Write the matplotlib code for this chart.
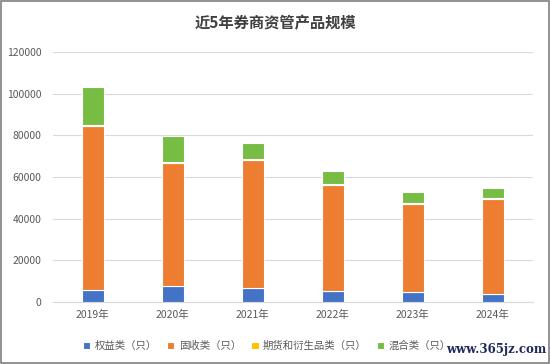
import matplotlib
matplotlib.use("Agg")
import matplotlib.pyplot as plt
import numpy as np
from matplotlib.patches import Rectangle

plt.rcParams['font.family'] = ['Noto Sans CJK SC', 'DejaVu Sans']

years = ['2019年', '2020年', '2021年', '2022年', '2023年', '2024年']
series_names = ['权益类（只）', '固收类（只）', '期货和衍生品类（只）', '混合类（只）']
equity = [5900, 7500, 6700, 5100, 4600, 4000]
fixed_income = [78600, 59200, 61600, 51300, 42500, 45500]
futures = [300, 300, 300, 300, 300, 300]
mixed = [18400, 12900, 7900, 6000, 5300, 4800]
colors = ['#4472C4', '#ED7D31', '#FFC000', '#77BC43']

fig = plt.figure(figsize=(5.5, 3.64), dpi=100)
ax = fig.add_axes([0.0956, 0.1703, 0.8734, 0.6867])

x = np.arange(len(years))
bottom = np.zeros(len(years))
for vals, name, c in zip([equity, fixed_income, futures, mixed], series_names, colors):
    ax.bar(x, vals, width=0.275, bottom=bottom, color=c, edgecolor='white',
           linewidth=0.8, label=name, zorder=3)
    bottom += np.array(vals)

ax.set_xlim(-0.5, 5.5)
ax.set_ylim(0, 120000)
ax.set_yticks(np.arange(0, 120001, 20000))
ax.set_xticks(x)
ax.set_xticklabels(years)
ax.grid(axis='y', color='#D9D9D9', linewidth=0.8, zorder=0)
for s in ['top', 'right', 'left']:
    ax.spines[s].set_visible(False)
ax.spines['bottom'].set_color('#D9D9D9')
ax.tick_params(axis='both', length=0, labelsize=7.5, colors='#595959')
ax.tick_params(axis='x', pad=6)
ax.tick_params(axis='y', pad=8)

fig.text(0.5, 0.937, '近5年券商资管产品规模', ha='center', va='center',
         fontsize=11, fontweight='bold', color='#404040')

leg = fig.legend(loc='center', bbox_to_anchor=(0.485, 0.05), ncol=4, frameon=False,
                 fontsize=7.5, handlelength=0.7, handleheight=0.7, handletextpad=0.4,
                 columnspacing=1.0)
for t in leg.get_texts():
    t.set_color('#595959')

# site watermark, bottom right
fig.text(0.993, 0.04, 'www.365jz.com', ha='right', va='center', fontsize=8.5,
         fontweight='bold', color='#1F2A5A', family=['DejaVu Serif'])

fig.patches.append(Rectangle((0.001, 0.002), 0.997, 0.995, transform=fig.transFigure,
                             fill=False, edgecolor='#7F7F7F', linewidth=1.2))

fig.savefig('out.png', dpi=100)
